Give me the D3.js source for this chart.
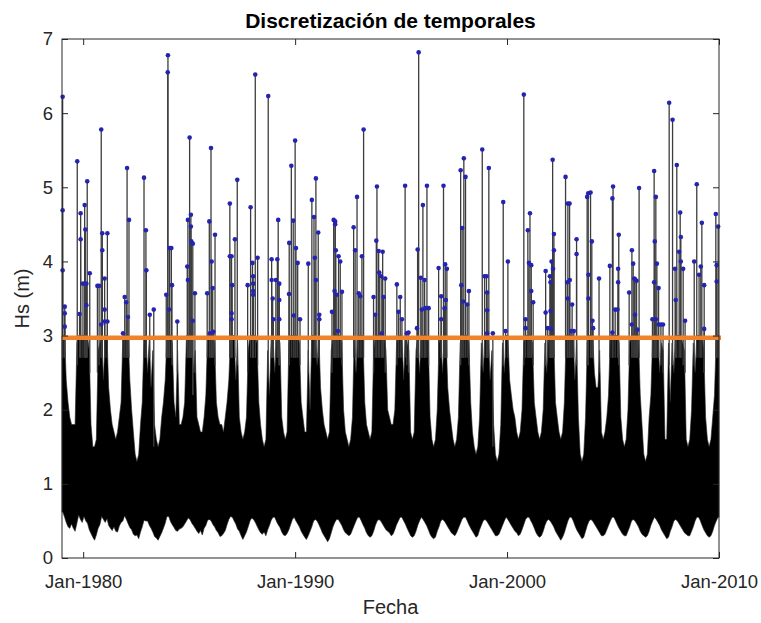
<!DOCTYPE html>
<html>
<head>
<meta charset="utf-8">
<script src="https://cdn.jsdelivr.net/npm/d3@7"></script>
<style>
  body { margin: 0; background: #fff; }
  svg { display: block; font-family: "Liberation Sans", Arial, sans-serif; }
</style>
</head>
<body>
<svg id="chart" width="761" height="623"></svg>
<script>
// Hs envelope per month (rows = years from 1979, columns = Jan..Dec)
const startYear = 1979;
const monthlyMax = [
  [3.0, 3.0, 2.4, 2.1, 1.9, 1.8, 1.8, 1.8, 2.9, 3.0, 3.0, 3.0],
  [3.0, 3.0, 3.0, 2.8, 1.8, 1.5, 1.5, 1.6, 2.8, 2.9, 3.0, 2.4],
  [3.0, 3.0, 2.3, 2.0, 1.8, 1.7, 1.6, 1.7, 1.9, 2.1, 3.0, 3.0],
  [3.0, 3.0, 2.4, 2.0, 1.7, 1.4, 1.3, 1.4, 1.8, 2.1, 3.0, 3.0],
  [2.5, 3.0, 2.3, 2.8, 1.8, 1.6, 1.5, 1.6, 1.9, 2.1, 2.4, 3.0],
  [3.0, 3.0, 2.9, 2.1, 1.9, 2.8, 1.8, 1.8, 1.9, 2.1, 3.0, 3.0],
  [3.0, 3.0, 2.5, 2.8, 1.9, 1.8, 1.7, 1.7, 1.9, 2.2, 3.0, 3.0],
  [3.0, 3.0, 2.9, 2.1, 1.9, 1.8, 1.8, 1.7, 1.9, 2.1, 2.4, 3.0],
  [3.0, 3.0, 2.4, 2.9, 1.9, 1.7, 1.6, 1.7, 1.9, 2.8, 3.0, 3.0],
  [3.0, 3.0, 2.9, 2.1, 1.8, 1.6, 1.5, 1.6, 2.8, 2.2, 3.0, 3.0],
  [2.5, 3.0, 3.0, 2.9, 1.9, 1.7, 1.6, 1.7, 2.9, 3.0, 3.0, 3.0],
  [3.0, 3.0, 2.9, 2.1, 1.9, 1.7, 1.7, 2.8, 2.0, 3.0, 3.0, 3.0],
  [2.6, 3.0, 2.3, 2.0, 1.8, 1.7, 1.6, 1.7, 2.8, 3.0, 3.0, 3.0],
  [3.0, 3.0, 2.9, 2.0, 1.7, 1.6, 1.5, 1.6, 1.9, 3.0, 2.5, 3.0],
  [3.0, 3.0, 3.0, 2.1, 1.8, 1.7, 1.6, 1.7, 2.8, 3.0, 3.0, 3.0],
  [3.0, 3.0, 3.0, 2.8, 2.0, 1.9, 1.8, 1.8, 2.0, 2.9, 3.0, 3.0],
  [3.0, 2.4, 3.0, 2.9, 2.8, 1.7, 1.6, 1.7, 2.8, 3.0, 2.5, 3.0],
  [3.0, 3.0, 3.0, 2.9, 1.9, 1.6, 1.5, 1.6, 2.0, 2.9, 3.0, 2.5],
  [3.0, 3.0, 2.3, 2.0, 1.8, 1.6, 1.5, 1.6, 1.9, 2.9, 3.0, 3.0],
  [3.0, 3.0, 2.9, 2.1, 1.7, 1.5, 1.4, 1.5, 1.9, 2.9, 2.5, 3.0],
  [3.0, 3.0, 2.4, 2.8, 1.8, 1.4, 1.3, 1.4, 1.8, 2.9, 2.5, 3.0],
  [3.0, 2.4, 2.2, 2.0, 1.9, 1.7, 1.6, 1.7, 2.0, 2.9, 3.0, 3.0],
  [3.0, 3.0, 2.9, 2.1, 1.9, 1.7, 1.6, 1.7, 2.0, 2.9, 2.5, 3.0],
  [3.0, 3.0, 3.0, 2.1, 1.9, 1.7, 1.6, 1.7, 2.1, 3.0, 3.0, 3.0],
  [3.0, 3.0, 2.4, 2.9, 1.9, 1.4, 1.3, 1.4, 1.9, 2.9, 3.0, 3.0],
  [3.0, 2.5, 2.3, 2.3, 2.8, 1.7, 1.6, 1.7, 1.9, 2.2, 3.0, 3.0],
  [3.0, 3.0, 3.0, 2.9, 1.9, 1.6, 1.5, 1.6, 2.0, 2.9, 3.0, 3.0],
  [3.0, 3.0, 3.0, 2.2, 1.8, 1.4, 1.3, 1.4, 1.9, 2.2, 3.0, 3.0],
  [3.0, 3.0, 2.5, 2.9, 2.8, 1.6, 1.6, 2.9, 2.1, 2.9, 2.5, 3.0],
  [3.0, 3.0, 3.0, 2.9, 2.8, 1.6, 1.5, 1.6, 2.0, 2.9, 2.5, 3.0],
  [3.0, 3.0, 3.0, 2.8, 1.9, 1.6, 1.5, 1.6, 1.9, 2.2, 3.0, 3.0]
];
const monthlyMin = [
  [0.62, 0.55, 0.48, 0.42, 0.40, 0.46, 0.40, 0.36, 0.47, 0.58, 0.52, 0.48],
  [0.56, 0.50, 0.47, 0.38, 0.33, 0.28, 0.24, 0.31, 0.40, 0.45, 0.56, 0.52],
  [0.48, 0.53, 0.44, 0.40, 0.37, 0.42, 0.36, 0.35, 0.43, 0.48, 0.50, 0.57],
  [0.52, 0.46, 0.41, 0.38, 0.32, 0.30, 0.31, 0.26, 0.35, 0.42, 0.51, 0.50],
  [0.50, 0.44, 0.40, 0.35, 0.29, 0.27, 0.24, 0.29, 0.34, 0.40, 0.47, 0.56],
  [0.56, 0.49, 0.45, 0.41, 0.37, 0.36, 0.39, 0.40, 0.42, 0.46, 0.50, 0.54],
  [0.52, 0.47, 0.44, 0.40, 0.36, 0.33, 0.37, 0.31, 0.40, 0.44, 0.51, 0.52],
  [0.50, 0.45, 0.42, 0.37, 0.34, 0.29, 0.30, 0.33, 0.37, 0.45, 0.52, 0.56],
  [0.55, 0.50, 0.46, 0.39, 0.36, 0.30, 0.25, 0.30, 0.35, 0.42, 0.50, 0.54],
  [0.52, 0.48, 0.43, 0.38, 0.34, 0.32, 0.35, 0.30, 0.38, 0.44, 0.51, 0.55],
  [0.55, 0.49, 0.45, 0.41, 0.35, 0.31, 0.30, 0.33, 0.38, 0.45, 0.52, 0.55],
  [0.50, 0.46, 0.42, 0.36, 0.32, 0.28, 0.25, 0.30, 0.36, 0.42, 0.50, 0.52],
  [0.50, 0.45, 0.40, 0.34, 0.30, 0.26, 0.22, 0.26, 0.34, 0.42, 0.48, 0.52],
  [0.52, 0.48, 0.44, 0.38, 0.34, 0.32, 0.30, 0.32, 0.38, 0.44, 0.50, 0.55],
  [0.55, 0.50, 0.45, 0.40, 0.34, 0.30, 0.28, 0.30, 0.36, 0.44, 0.50, 0.52],
  [0.50, 0.46, 0.42, 0.38, 0.36, 0.34, 0.30, 0.32, 0.38, 0.45, 0.50, 0.55],
  [0.55, 0.50, 0.46, 0.40, 0.35, 0.30, 0.28, 0.30, 0.36, 0.44, 0.50, 0.55],
  [0.52, 0.48, 0.44, 0.38, 0.32, 0.28, 0.26, 0.28, 0.36, 0.42, 0.50, 0.52],
  [0.50, 0.46, 0.42, 0.38, 0.34, 0.32, 0.30, 0.34, 0.40, 0.46, 0.52, 0.55],
  [0.55, 0.50, 0.45, 0.40, 0.36, 0.32, 0.28, 0.30, 0.38, 0.44, 0.50, 0.52],
  [0.50, 0.46, 0.42, 0.38, 0.34, 0.30, 0.30, 0.32, 0.38, 0.44, 0.50, 0.55],
  [0.52, 0.48, 0.44, 0.40, 0.36, 0.34, 0.30, 0.32, 0.38, 0.45, 0.52, 0.55],
  [0.55, 0.50, 0.46, 0.40, 0.34, 0.30, 0.28, 0.30, 0.36, 0.44, 0.50, 0.52],
  [0.50, 0.46, 0.42, 0.36, 0.32, 0.28, 0.24, 0.28, 0.34, 0.42, 0.50, 0.55],
  [0.55, 0.50, 0.44, 0.38, 0.34, 0.30, 0.26, 0.28, 0.36, 0.44, 0.50, 0.52],
  [0.50, 0.46, 0.42, 0.38, 0.34, 0.30, 0.30, 0.32, 0.38, 0.44, 0.50, 0.55],
  [0.55, 0.50, 0.45, 0.40, 0.36, 0.32, 0.30, 0.30, 0.36, 0.42, 0.50, 0.52],
  [0.50, 0.46, 0.42, 0.36, 0.32, 0.30, 0.28, 0.30, 0.36, 0.44, 0.50, 0.55],
  [0.52, 0.48, 0.44, 0.38, 0.34, 0.30, 0.26, 0.28, 0.36, 0.42, 0.50, 0.52],
  [0.50, 0.46, 0.42, 0.38, 0.34, 0.32, 0.30, 0.30, 0.36, 0.42, 0.50, 0.55],
  [0.55, 0.50, 0.44, 0.38, 0.34, 0.30, 0.28, 0.30, 0.36, 0.44, 0.50, 0.55]
];

// storm events over the threshold: [decimal year, Hs (m)]
const stormPeaks = [
  [1979.03, 6.22], [1979.03, 4.69], [1979.03, 3.88], [1979.13, 3.39], [1979.13, 3.30], [1979.13, 3.12],
  [1979.72, 5.35], [1979.83, 3.29], [1979.88, 4.65], [1979.88, 4.30], [1979.99, 3.70], [1980.07, 4.76],
  [1980.10, 4.43], [1980.15, 3.70], [1980.15, 3.41], [1980.19, 5.08], [1980.31, 3.84], [1980.67, 3.67],
  [1980.75, 3.67], [1980.85, 5.78], [1980.85, 3.15], [1980.90, 4.38], [1980.90, 4.15], [1981.01, 3.77],
  [1981.01, 3.35], [1981.01, 3.19], [1981.14, 4.38], [1981.14, 3.19], [1981.88, 3.03], [1981.96, 3.52],
  [1982.03, 3.45], [1982.07, 5.26], [1982.11, 3.25], [1982.16, 4.56], [1982.87, 5.13], [1982.96, 4.42],
  [1982.98, 3.88], [1983.14, 3.28], [1983.33, 3.35], [1983.92, 3.55], [1983.99, 6.55], [1984.00, 6.78],
  [1984.05, 3.35], [1984.08, 4.18], [1984.16, 4.18], [1984.19, 3.68], [1984.44, 3.19], [1984.91, 3.93],
  [1984.94, 4.56], [1984.94, 3.75], [1985.02, 5.67], [1985.08, 4.63], [1985.08, 4.47], [1985.10, 4.27],
  [1985.17, 4.24], [1985.17, 3.20], [1985.27, 3.57], [1985.85, 3.57], [1985.95, 4.54], [1985.98, 3.03],
  [1986.03, 5.53], [1986.06, 4.00], [1986.11, 3.64], [1986.14, 3.05], [1986.22, 4.36], [1986.92, 4.78],
  [1986.92, 4.07], [1987.00, 4.07], [1987.00, 3.30], [1987.00, 3.22], [1987.03, 3.68], [1987.16, 4.30],
  [1987.27, 5.10], [1987.76, 3.68], [1987.90, 4.73], [1987.99, 3.98], [1988.02, 3.80], [1988.02, 3.70],
  [1988.02, 3.60], [1988.02, 3.55], [1988.12, 6.52], [1988.23, 4.05], [1988.73, 6.23], [1988.89, 4.03],
  [1988.89, 3.75], [1988.94, 3.50], [1988.97, 3.22], [1989.09, 3.75], [1989.16, 4.03], [1989.20, 4.56],
  [1989.25, 3.70], [1989.25, 3.48], [1989.25, 3.22], [1989.71, 3.56], [1989.72, 4.25], [1989.82, 5.29],
  [1989.91, 4.55], [1989.94, 3.27], [1990.00, 5.63], [1990.04, 4.18], [1990.12, 3.98], [1990.23, 3.22],
  [1990.62, 3.97], [1990.79, 4.83], [1990.89, 4.60], [1990.93, 4.05], [1990.98, 5.12], [1990.98, 3.75],
  [1991.09, 4.39], [1991.14, 3.28], [1991.14, 3.22], [1991.74, 3.32], [1991.82, 4.56], [1991.86, 3.60],
  [1991.89, 4.54], [1991.89, 4.50], [1991.92, 4.15], [1991.97, 3.55], [1992.02, 3.06], [1992.05, 4.07],
  [1992.13, 4.00], [1992.21, 3.59], [1992.76, 4.46], [1992.83, 4.15], [1992.92, 4.87], [1993.00, 3.57],
  [1993.07, 3.53], [1993.15, 4.07], [1993.23, 5.78], [1993.70, 3.52], [1993.78, 3.28], [1993.83, 4.28],
  [1993.86, 5.01], [1993.94, 4.14], [1993.97, 3.85], [1994.06, 3.80], [1994.09, 3.03], [1994.13, 4.13],
  [1994.17, 3.52], [1994.25, 3.77], [1994.80, 3.69], [1994.88, 3.32], [1994.96, 3.52], [1995.04, 3.22],
  [1995.19, 5.02], [1995.27, 3.03], [1995.35, 3.04], [1995.75, 3.10], [1995.78, 4.16], [1995.83, 6.82],
  [1995.93, 3.78], [1995.98, 3.35], [1996.03, 4.76], [1996.11, 3.75], [1996.14, 3.37], [1996.22, 5.02],
  [1996.30, 3.37], [1996.77, 3.91], [1996.89, 3.53], [1996.89, 3.22], [1997.00, 5.02], [1997.05, 3.37],
  [1997.08, 3.96], [1997.11, 3.48], [1997.16, 3.90], [1997.81, 5.23], [1997.84, 3.68], [1997.88, 4.45],
  [1997.93, 3.46], [1997.96, 5.39], [1998.04, 5.14], [1998.12, 3.42], [1998.20, 3.60], [1998.83, 5.51],
  [1998.94, 3.80], [1999.03, 3.80], [1999.06, 3.58], [1999.06, 3.34], [1999.06, 3.03], [1999.14, 5.26],
  [1999.33, 3.03], [1999.82, 4.80], [1999.93, 3.06], [2000.04, 4.00], [2000.79, 6.25], [2000.87, 3.22],
  [2000.87, 3.10], [2000.98, 4.42], [2001.03, 3.98], [2001.08, 4.65], [2001.14, 3.95], [2001.14, 3.60],
  [2001.23, 3.45], [2001.82, 3.87], [2001.82, 3.31], [2001.92, 3.10], [2002.02, 3.80], [2002.05, 3.72],
  [2002.05, 3.33], [2002.08, 3.09], [2002.10, 4.00], [2002.15, 5.37], [2002.17, 3.90], [2002.21, 4.37],
  [2002.21, 4.15], [2002.76, 5.14], [2002.84, 3.72], [2002.87, 4.78], [2002.87, 3.50], [2002.95, 4.78],
  [2002.96, 3.75], [2003.02, 3.06], [2003.07, 3.42], [2003.15, 3.06], [2003.28, 4.30], [2003.28, 4.10],
  [2003.78, 4.87], [2003.83, 4.92], [2003.84, 3.82], [2003.84, 3.50], [2003.94, 4.93], [2004.00, 4.27],
  [2004.03, 3.20], [2004.06, 3.10], [2004.34, 3.77], [2004.85, 3.94], [2004.97, 4.85], [2004.97, 3.04],
  [2005.00, 5.01], [2005.10, 3.35], [2005.21, 3.35], [2005.24, 3.90], [2005.24, 3.72], [2005.27, 4.36],
  [2005.76, 3.58], [2005.89, 4.15], [2005.89, 3.15], [2005.95, 3.97], [2006.00, 3.77], [2006.04, 3.76],
  [2006.04, 3.28], [2006.11, 3.74], [2006.15, 3.08], [2006.23, 4.99], [2006.86, 3.22], [2006.94, 5.22],
  [2006.94, 3.72], [2006.97, 4.27], [2007.02, 4.87], [2007.02, 3.22], [2007.07, 3.97], [2007.15, 3.64],
  [2007.15, 3.15], [2007.26, 3.15], [2007.36, 3.15], [2007.65, 6.14], [2007.81, 5.91], [2007.93, 3.90],
  [2007.96, 3.48], [2008.01, 5.30], [2008.12, 4.13], [2008.17, 4.66], [2008.20, 4.33], [2008.20, 4.00],
  [2008.31, 3.90], [2008.40, 3.20], [2008.83, 4.00], [2008.95, 5.04], [2009.06, 3.82], [2009.14, 3.93],
  [2009.19, 4.52], [2009.30, 3.68], [2009.30, 3.09], [2009.85, 4.64], [2009.89, 3.95], [2009.89, 3.73],
  [2009.96, 4.47]
];

const threshold = 2.97;
const yTicks = [0, 1, 2, 3, 4, 5, 6, 7];
const xTickYears = [1980, 1990, 2000, 2010];

const width = 761;
const height = 623;
const margin = { top: 39, right: 42, bottom: 65, left: 62 };
const axisColor = "#262626";

function yearToDate(t) {
  const y = Math.floor(t);
  const a = new Date(y, 0, 1);
  const b = new Date(y + 1, 0, 1);
  return new Date(+a + (t - y) * (b - a));
}

// the stem of an event starts where the monthly envelope ends
function stemBase(t) {
  const date = yearToDate(t);
  const row = monthlyMax[date.getFullYear() - startYear];
  return row ? row[date.getMonth()] - 0.3 : 2.5;
}

const svg = d3.select("#chart");

const xScale = d3
  .scaleTime()
  .domain([new Date(1979, 0, 1), new Date(2010, 0, 1)])
  .range([margin.left, width - margin.right]);

const yScale = d3
  .scaleLinear()
  .domain([0, 7])
  .range([height - margin.bottom, margin.top]);

// monthly envelope -> one row per month
let months = [];
monthlyMax.forEach((row, i) => {
  row.forEach((hi, m) => {
    months.push({
      date: new Date(startYear + i, m, 15),
      hi,
      lo: monthlyMin[i][m],
    });
  });
});
// stretch the first and last month to the plot edges
months.unshift({ ...months[0], date: xScale.domain()[0] });
months.push({ ...months[months.length - 1], date: xScale.domain()[1] });

const plot = svg.append("g");

plot
  .append("path")
  .datum(months)
  .attr("fill", "#000")
  .attr("stroke", "#222")
  .attr("stroke-width", 0.6)
  .attr(
    "d",
    d3
      .area()
      .x((d) => xScale(d.date))
      .y0((d) => yScale(d.lo))
      .y1((d) => yScale(d.hi))
  );

// stems of the storm events
plot
  .append("g")
  .selectAll("line")
  .data(stormPeaks)
  .join("line")
  .attr("x1", (d) => xScale(yearToDate(d[0])))
  .attr("x2", (d) => xScale(yearToDate(d[0])))
  .attr("y1", (d) => yScale(stemBase(d[0])))
  .attr("y2", (d) => yScale(d[1]))
  .attr("stroke", "#3c3c3c")
  .attr("stroke-width", 1.3);

plot
  .append("g")
  .selectAll("circle")
  .data(stormPeaks)
  .join("circle")
  .attr("cx", (d) => xScale(yearToDate(d[0])))
  .attr("cy", (d) => yScale(d[1]))
  .attr("r", 2.3)
  .attr("fill", "#2424b0");

// threshold line
plot
  .append("line")
  .attr("x1", xScale.range()[0])
  .attr("x2", xScale.range()[1] + 2)
  .attr("y1", yScale(threshold))
  .attr("y2", yScale(threshold))
  .attr("stroke", "#f0822c")
  .attr("stroke-width", 4.5);

// axes, matlab style: ticks inside on all four sides
const xVals = xTickYears.map((y) => new Date(y, 0, 1));
const fmt = d3.timeFormat("%b-%Y");

const styleAxis = (g) => {
  g.select(".domain").remove();
  g.selectAll("line").attr("stroke", axisColor);
  g.selectAll("text").attr("fill", axisColor).style("font-size", "18.5px");
};

svg.append("g")
  .attr("transform", `translate(0,${yScale(0)})`)
  .call(d3.axisBottom(xScale).tickValues(xVals).tickFormat(fmt).tickSizeInner(-6).tickPadding(17))
  .call(styleAxis);

svg.append("g")
  .attr("transform", `translate(0,${yScale(7)})`)
  .call(d3.axisTop(xScale).tickValues(xVals).tickFormat("").tickSizeInner(-6))
  .call(styleAxis);

svg.append("g")
  .attr("transform", `translate(${xScale.range()[0]},0)`)
  .call(d3.axisLeft(yScale).tickValues(yTicks).tickFormat(d3.format("d")).tickSizeInner(-6).tickPadding(9))
  .call(styleAxis);

svg.append("g")
  .attr("transform", `translate(${xScale.range()[1]},0)`)
  .call(d3.axisRight(yScale).tickValues(yTicks).tickFormat("").tickSizeInner(-6))
  .call(styleAxis);

svg.append("rect")
  .attr("x", xScale.range()[0])
  .attr("y", yScale(7))
  .attr("width", xScale.range()[1] - xScale.range()[0])
  .attr("height", yScale(0) - yScale(7))
  .attr("fill", "none")
  .attr("stroke", axisColor)
  .attr("stroke-width", 1);

// labels
svg.append("text")
  .attr("x", (xScale.range()[0] + xScale.range()[1]) / 2)
  .attr("y", 28)
  .attr("text-anchor", "middle")
  .attr("font-weight", "bold")
  .style("font-size", "21px")
  .attr("fill", "#000")
  .text("Discretización de temporales");

svg.append("text")
  .attr("x", (xScale.range()[0] + xScale.range()[1]) / 2)
  .attr("y", 614)
  .attr("text-anchor", "middle")
  .style("font-size", "20px")
  .attr("fill", axisColor)
  .text("Fecha");

svg.append("text")
  .attr("transform", `translate(29,${(yScale(0) + yScale(7)) / 2}) rotate(-90)`)
  .attr("text-anchor", "middle")
  .style("font-size", "20px")
  .attr("fill", axisColor)
  .text("Hs (m)");
</script>
</body>
</html>
